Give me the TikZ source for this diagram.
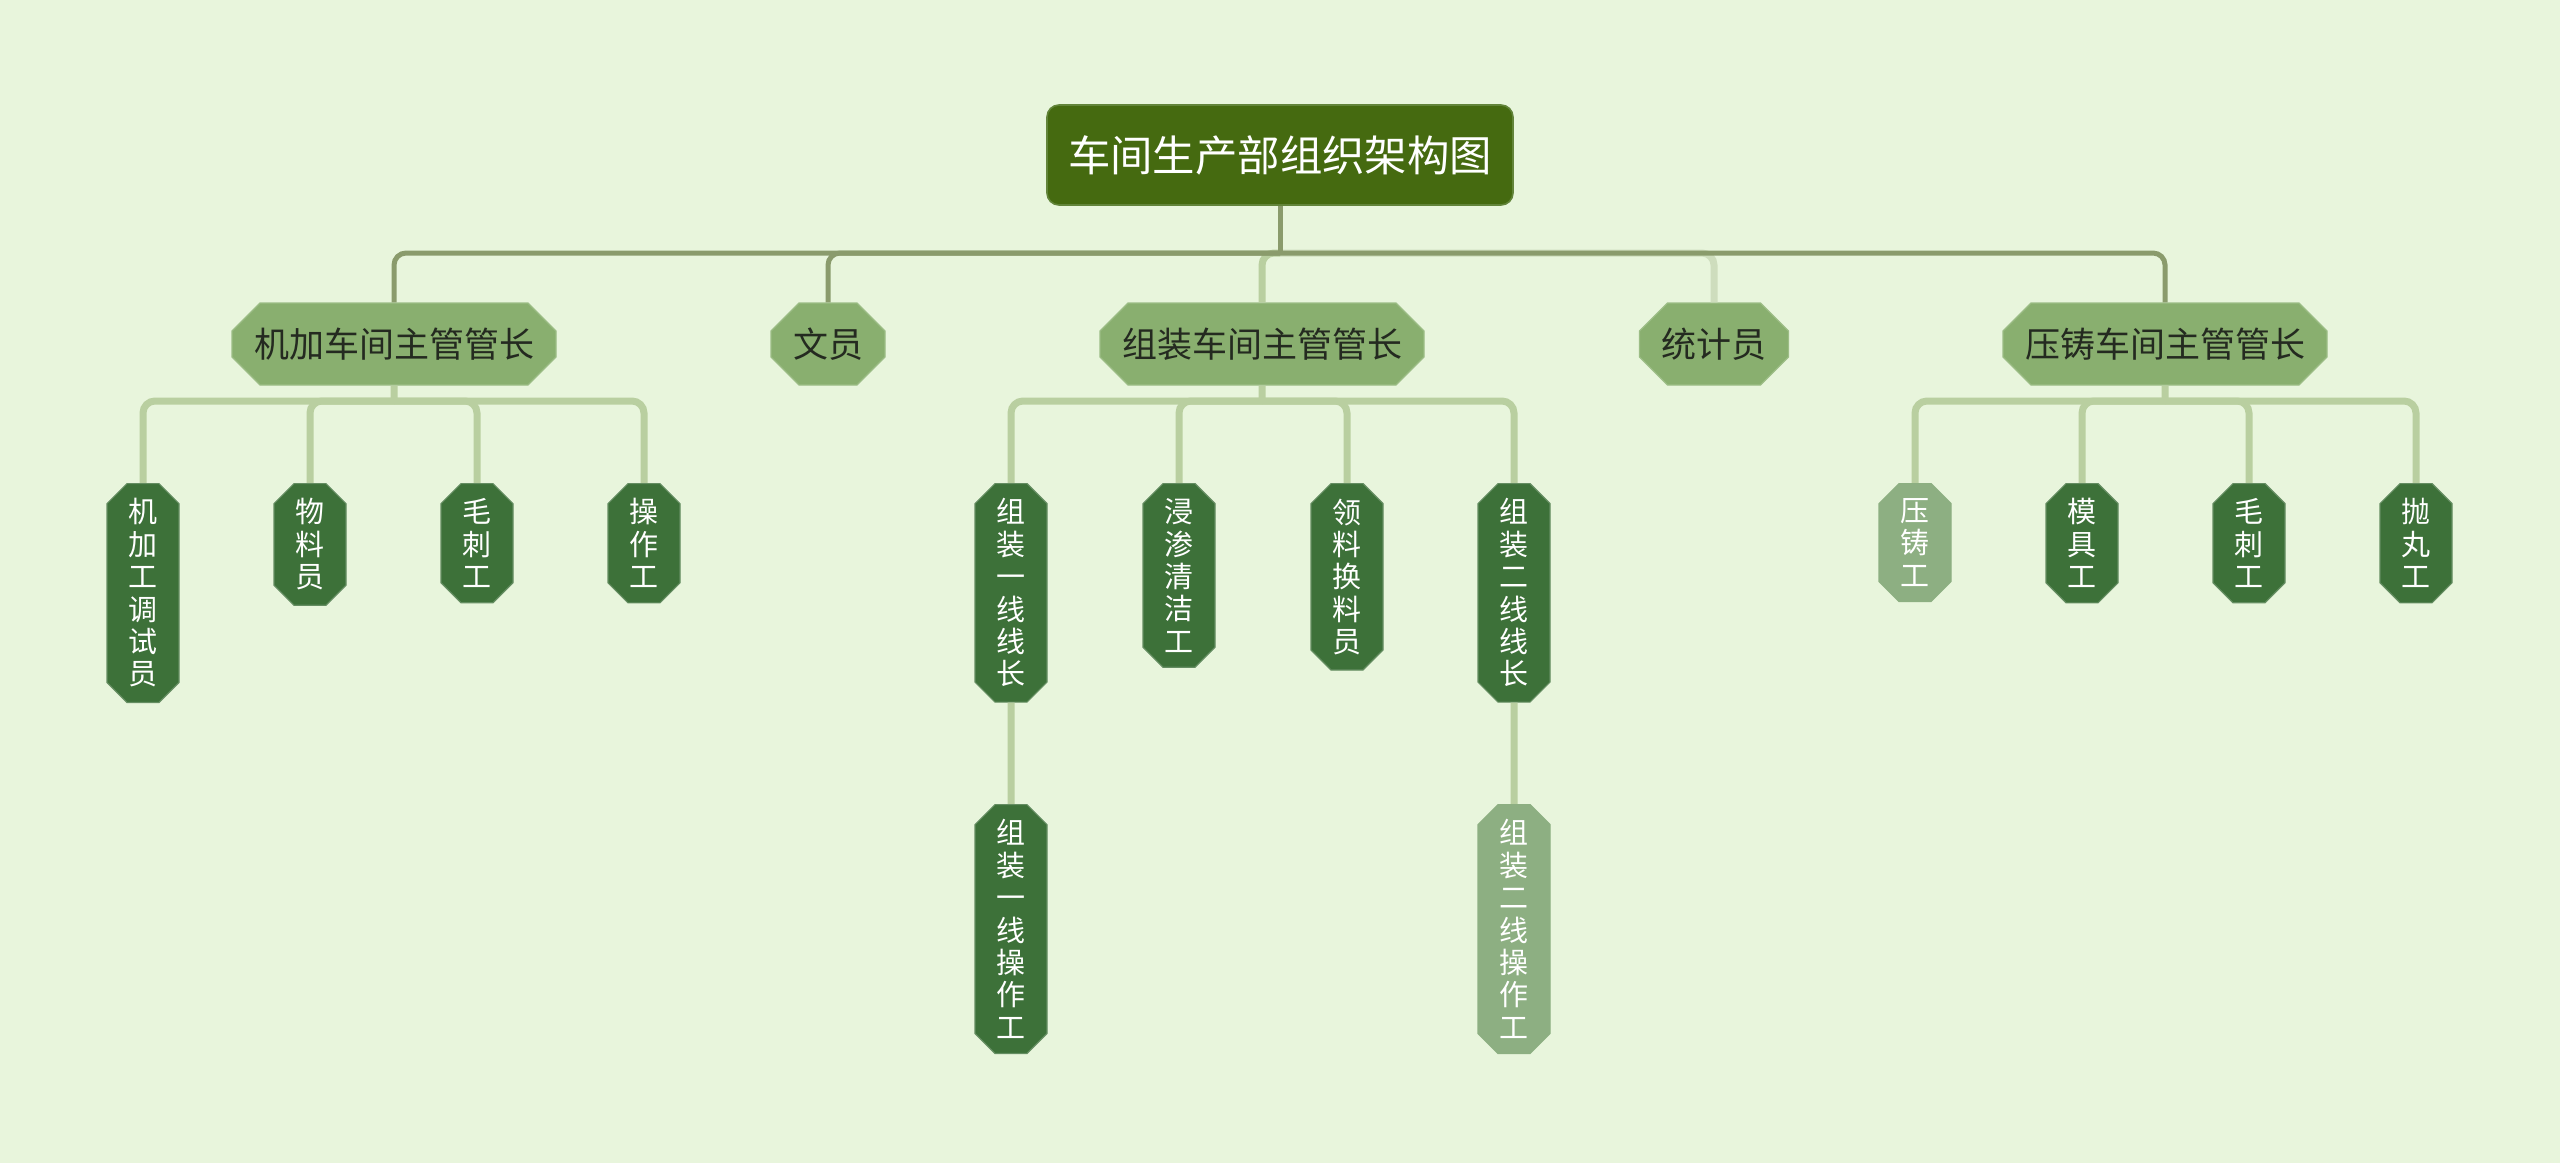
\documentclass[tikz,border=0pt]{standalone}
\usepackage{fontspec}
\setmainfont{Noto Sans CJK SC}
\usepackage{tikz}
\usetikzlibrary{shapes.misc}

\definecolor{bgcol}{HTML}{E8F5DC}
\definecolor{rootcol}{HTML}{456A10}
\definecolor{rootline}{HTML}{62843A}
\definecolor{midcol}{HTML}{89AF6F}
\definecolor{midline}{HTML}{9CBD86}
\definecolor{midtext}{HTML}{242A20}
\definecolor{leafcol}{HTML}{3D7139}
\definecolor{palecol}{HTML}{8DAF82}
\definecolor{trunkcol}{HTML}{8A9B6C}
\definecolor{twigcol}{HTML}{B9CFA0}

\begin{document}
\begin{tikzpicture}[x=0.5pt,y=-0.5pt]
\tikzstyle{every node}=[inner sep=0pt];
\tikzstyle{head}=[rectangle,rounded corners=6pt,fill=rootcol,draw=rootline,line width=0.8pt,text=white,font=\fontsize{21.2}{24}\selectfont,minimum width=233pt,minimum height=50pt];
\tikzstyle{lead}=[chamfered rectangle,chamfered rectangle xsep=7pt,chamfered rectangle ysep=7pt,fill=midcol,draw=midline,line width=0.6pt,text=midtext,font=\fontsize{17.5}{20}\selectfont,inner xsep=4pt,minimum height=41pt];
\tikzstyle{leaf}=[chamfered rectangle,chamfered rectangle xsep=5pt,chamfered rectangle ysep=5pt,fill=leafcol,draw=leafcol!80!white,line width=0.6pt,text=white,font=\fontsize{14.5}{16.2}\selectfont,align=center,minimum width=36pt,inner ysep=2.5pt,anchor=north];
\tikzstyle{paleleaf}=[leaf,fill=palecol,draw=palecol];
\tikzstyle{trunk}=[draw=trunkcol,line width=2.5pt,rounded corners=6pt];
\tikzstyle{twig}=[draw=twigcol,line width=3.5pt,rounded corners=6pt];

\fill[bgcol] (0,0) rectangle (2560,1163);
\useasboundingbox (0,0) rectangle (2560,1163);

% top
\path (1280,155) node[head] (root) {车间生产部组织架构图};

% second row
\path (394,344) node[lead] (ma) {机加车间主管管长};
\path (828,344) node[lead] (clerk) {文员};
\path (1262,344) node[lead] (za) {组装车间主管管长};
\path (1714,344) node[lead] (stat) {统计员};
\path (2165,344) node[lead] (ya) {压铸车间主管管长};

% machining
\path (143,483) node[leaf] (m1) {机\\加\\工\\调\\试\\员};
\path (310,483) node[leaf] (m2) {物\\料\\员};
\path (477,483) node[leaf] (m3) {毛\\刺\\工};
\path (644,483) node[leaf] (m4) {操\\作\\工};

% assembly
\path (1011,483) node[leaf] (a1) {组\\装\\一\\线\\线\\长};
\path (1179,483) node[leaf] (a2) {浸\\渗\\清\\洁\\工};
\path (1347,483) node[leaf] (a3) {领\\料\\换\\料\\员};
\path (1514,483) node[leaf] (a4) {组\\装\\二\\线\\线\\长};
\path (1011,804) node[leaf] (a5) {组\\装\\一\\线\\操\\作\\工};
\path (1514,804) node[paleleaf] (a6) {组\\装\\二\\线\\操\\作\\工};

% die casting
\path (1915,483) node[paleleaf] (p1) {压\\铸\\工};
\path (2082,483) node[leaf] (p2) {模\\具\\工};
\path (2249,483) node[leaf] (p3) {毛\\刺\\工};
\path (2416,483) node[leaf] (p4) {抛\\丸\\工};

\coordinate (hub) at (root |- 0,253);
\coordinate (mab) at (ma |- 0,401);
\coordinate (zab) at (za |- 0,401);
\coordinate (yab) at (ya |- 0,401);

% light drops first, the trunk goes over them
\draw[twig] (hub) -| (za);
\draw[twig,draw=twigcol!70!white] (hub) -| (stat);
\draw[trunk] (root) -- (hub);
\draw[trunk] (hub) -| (ma);
\draw[trunk] (hub) -| (clerk);
\draw[trunk] (hub) -| (ya);

\draw[twig] (ma) -- (mab);
\draw[twig] (mab) -| (m1);
\draw[twig] (mab) -| (m2);
\draw[twig] (mab) -| (m3);
\draw[twig] (mab) -| (m4);

\draw[twig] (za) -- (zab);
\draw[twig] (zab) -| (a1);
\draw[twig] (zab) -| (a2);
\draw[twig] (zab) -| (a3);
\draw[twig] (zab) -| (a4);
\draw[twig] (a1) -- (a5);
\draw[twig] (a4) -- (a6);

\draw[twig] (ya) -- (yab);
\draw[twig] (yab) -| (p1);
\draw[twig] (yab) -| (p2);
\draw[twig] (yab) -| (p3);
\draw[twig] (yab) -| (p4);
\end{tikzpicture}
\end{document}
